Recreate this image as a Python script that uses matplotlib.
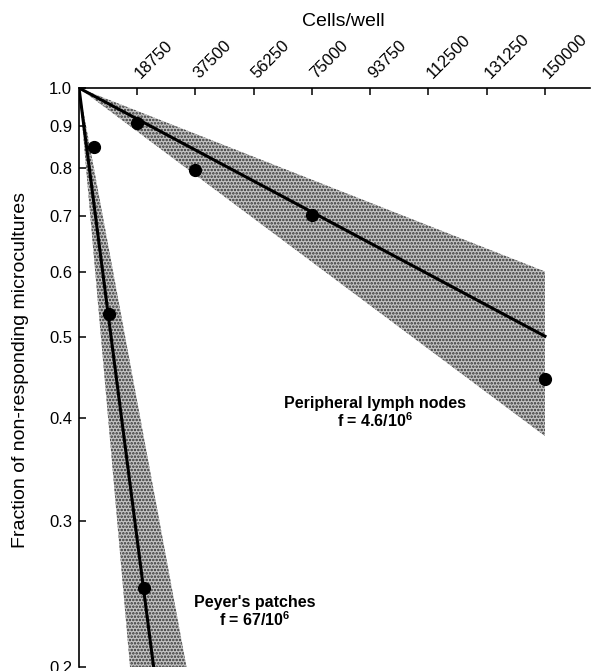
import numpy as np
import matplotlib
matplotlib.use("Agg")
import matplotlib.pyplot as plt
from matplotlib.ticker import NullLocator
from matplotlib.transforms import ScaledTranslation

plt.rcParams["font.family"] = ["Liberation Sans", "DejaVu Sans"]
plt.rcParams["mathtext.fontset"] = "custom"
plt.rcParams["mathtext.rm"] = "Liberation Sans"
plt.rcParams["mathtext.bf"] = "Liberation Sans:bold"
plt.rcParams["hatch.linewidth"] = 1.2

# measured fractions of non-responding wells
cells_pln = [18750, 37500, 75000, 150000]
frac_pln = [0.908, 0.797, 0.702, 0.445]
cells_pp = [4690, 9700, 21000]
frac_pp = [0.848, 0.534, 0.249]

# fitted frequencies (per cell) and confidence limits
f_pln = 4.6e-6
f_pln_lo, f_pln_hi = 3.4e-6, 6.45e-6
f_pp = 67e-6
f_pp_lo, f_pp_hi = 46.5e-6, 98e-6

x_ticks = [18750, 37500, 56250, 75000, 93750, 112500, 131250, 150000]
y_ticks = [0.2, 0.3, 0.4, 0.5, 0.6, 0.7, 0.8, 0.9, 1.0]


def poisson(f, n):
    return np.exp(-f * n)


fig = plt.figure(figsize=(5.92, 6.71), dpi=100)
ax = fig.add_axes([79 / 592, 4 / 671, 511 / 592, 579 / 671])

band_style = dict(facecolor="#c4c4c4", edgecolor="#303030", hatch=".....", lw=0, zorder=1)

n1 = np.linspace(0, 150000, 200)
ax.fill_between(n1, poisson(f_pln_hi, n1), poisson(f_pln_lo, n1), **band_style)
ax.plot(n1, poisson(f_pln, n1), color="black", lw=2.2, zorder=3)

n2 = np.linspace(0, 40000, 200)
ax.fill_between(n2, poisson(f_pp_hi, n2), poisson(f_pp_lo, n2), **band_style)
ax.plot(n2, poisson(f_pp, n2), color="black", lw=2.2, zorder=3)

ax.plot(cells_pln, frac_pln, "o", color="black", ms=8.5, zorder=4)
ax.plot(cells_pp, frac_pp, "o", color="black", ms=8.5, zorder=4)

ax.set_yscale("log")
ax.set_ylim(0.2, 1.0)
ax.set_yticks(y_ticks)
ax.set_yticklabels([f"{v:.1f}" for v in y_ticks])
ax.yaxis.set_minor_locator(NullLocator())

ax.set_xlim(0, 164500)
ax.xaxis.tick_top()
ax.set_xticks(x_ticks)
ax.set_xticklabels([str(v) for v in x_ticks], rotation=45, ha="left",
                   va="bottom", rotation_mode="anchor")

ax.tick_params(axis="both", direction="in", length=5, width=1.1,
               labelsize=12, pad=5)
# nudge the slanted labels so each one starts right above its tick
shift = ScaledTranslation(6 / 100, 0, fig.dpi_scale_trans)
for lbl in ax.get_xticklabels():
    lbl.set_transform(lbl.get_transform() + shift)

ax.spines["right"].set_visible(False)
ax.spines["bottom"].set_visible(False)
ax.spines["left"].set_linewidth(1.2)
ax.spines["top"].set_linewidth(1.2)

fig.text(343 / 592, 1 - 21 / 671, "Cells/well", ha="center", va="center", fontsize=14)
fig.text(21 / 592, 1 - 370 / 671, "Fraction of non-responding microcultures",
         rotation=90, ha="center", va="center", fontsize=14)

ax.text(95300, 0.405, "Peripheral lymph nodes\nf = 4.6/10$^{\\mathbf{6}}$",
        ha="center", va="center", fontsize=11.5, fontweight="bold", linespacing=1.05)
ax.text(56600, 0.233, "Peyer's patches\nf = 67/10$^{\\mathbf{6}}$",
        ha="center", va="center", fontsize=11.5, fontweight="bold", linespacing=1.05)

fig.savefig("out.png", dpi=100)
